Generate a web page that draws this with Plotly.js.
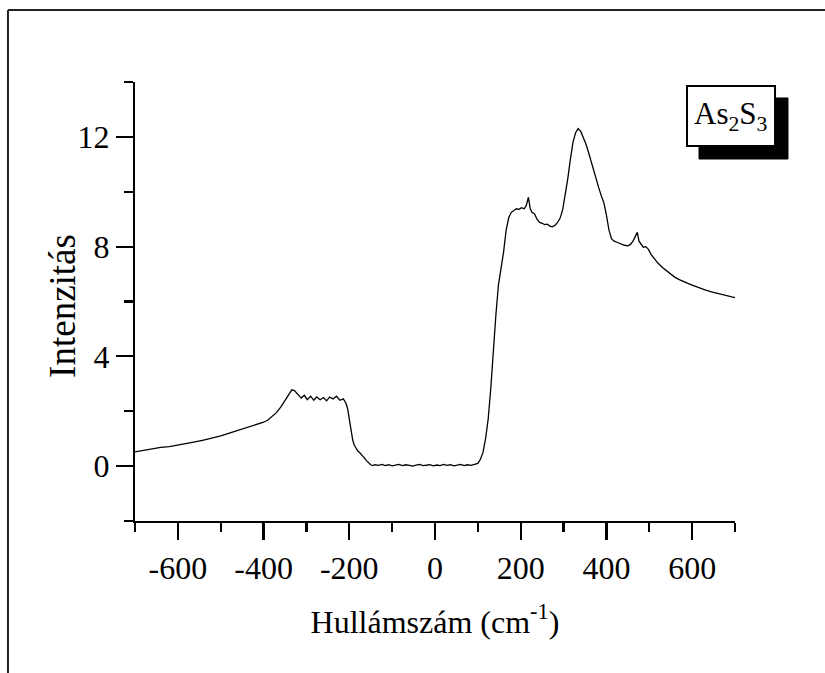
<!DOCTYPE html>
<html>
<head>
<meta charset="utf-8">
<script src="https://cdn.plot.ly/plotly-3.0.1.min.js"></script>
<style>html,body{margin:0;padding:0;background:#fff;}#chart{width:825px;height:673px;}</style>
</head>
<body>
<div id="chart"></div>
<script>
// Wavenumber (cm-1)
const wavenumber = [-700,-680,-660,-640,-620,-600,-580,-560,-540,-520,-500,-480,-460,-440,-420,-400,-390,-380,-370,-360,-350,-340,-334,-328,-320,-312,-305,-298,-290,-283,-276,-268,-260,-253,-246,-238,-230,-222,-214,-208,-204,-200,-196,-192,-188,-184,-180,-175,-170,-165,-160,-155,-150,-145,-140,-132,-124,-116,-108,-100,-92,-84,-76,-68,-60,-52,-44,-36,-28,-20,-12,-4,4,12,20,28,36,44,52,60,68,76,84,92,100,106,112,118,124,130,136,142,148,154,160,166,172,178,184,190,196,202,208,213,218,222,226,232,238,244,250,256,262,268,274,280,286,292,298,304,310,316,322,328,334,340,346,352,358,364,370,376,382,388,394,400,406,412,418,426,434,442,450,456,462,467,472,476,480,486,492,498,504,512,520,530,540,550,560,570,580,590,600,615,630,645,660,675,690,700];
// Intensity
const intensity = [0.52,0.58,0.62,0.68,0.71,0.76,0.82,0.88,0.95,1.02,1.1,1.2,1.3,1.42,1.5,1.6,1.68,1.8,1.95,2.15,2.4,2.62,2.78,2.75,2.62,2.48,2.58,2.42,2.55,2.4,2.52,2.42,2.5,2.38,2.52,2.45,2.55,2.4,2.45,2.3,2.1,1.7,1.25,0.95,0.75,0.62,0.55,0.48,0.4,0.3,0.2,0.12,0.05,0.02,0.05,0.03,0.06,0.02,0.05,0.01,0.04,0.06,0.02,0.05,0.03,0.0,0.04,0.06,0.02,0.04,0.05,0.01,0.04,0.02,0.06,0.03,0.05,0.01,0.04,0.06,0.02,0.05,0.03,0.06,0.1,0.25,0.5,1.0,1.7,2.8,4.3,5.5,6.6,7.2,7.8,8.6,9.05,9.25,9.32,9.38,9.36,9.42,9.38,9.5,9.8,9.4,9.25,9.2,9.0,8.88,8.85,8.8,8.82,8.75,8.72,8.78,8.88,9.04,9.35,9.9,10.5,11.2,11.8,12.15,12.3,12.2,12.0,11.75,11.45,11.1,10.8,10.5,10.15,9.85,9.6,9.15,8.6,8.28,8.2,8.15,8.1,8.05,8.03,8.08,8.2,8.35,8.52,8.2,8.1,7.98,8.0,7.9,7.72,7.55,7.4,7.25,7.12,7.0,6.88,6.8,6.72,6.66,6.6,6.5,6.42,6.35,6.3,6.25,6.2,6.14];

const xTickVals = [-600,-400,-200,0,200,400,600];
const xTickText = ["-600","-400","-200","0","200","400","600"];
const yTickVals = [0,4,8,12];
const yTickText = ["0","4","8","12"];
const xTitle = "Hullámszám (cm<sup>-1</sup>)";
const yTitle = "Intenzitás";
const sampleLabel = "As<sub>2</sub>S<sub>3</sub>";

const FONT = "Liberation Serif, Times New Roman, serif";

const trace = {
  x: wavenumber, y: intensity, type: 'scatter', mode: 'lines',
  line: {color: '#000', width: 1.3}, hoverinfo: 'skip', showlegend: false
};

const layout = {
  width: 825, height: 673,
  margin: {l: 135, r: 90, t: 82, b: 152},
  paper_bgcolor: '#fff', plot_bgcolor: '#fff',
  font: {family: FONT, color: '#000', size: 32},
  showlegend: false,
  xaxis: {
    range: [-700, 700], showgrid: false, zeroline: false,
    showline: true, linecolor: '#000', linewidth: 2.2,
    ticks: 'outside', ticklen: 17, tickwidth: 2.2, tickcolor: '#000',
    tickvals: xTickVals, ticktext: xTickText,
    tickfont: {family: FONT, size: 32, color: '#000'},
    minor: {ticks: 'outside', ticklen: 9, tickwidth: 2.2, tickcolor: '#000', tick0: 100, dtick: 200},
    title: {text: xTitle, font: {family: FONT, size: 32, color: '#000'}, standoff: 26}
  },
  yaxis: {
    range: [-2, 14], showgrid: false, zeroline: false,
    showline: true, linecolor: '#000', linewidth: 2.2,
    ticks: 'outside', ticklen: 17, tickwidth: 2.2, tickcolor: '#000',
    tickvals: yTickVals, ticktext: yTickText,
    tickfont: {family: FONT, size: 32, color: '#000'},
    minor: {ticks: 'outside', ticklen: 9, tickwidth: 2.2, tickcolor: '#000', tick0: 2, dtick: 4}
  },
  shapes: [
    {type: 'line', xref: 'paper', yref: 'paper', x0: -0.2117, x1: -0.2117, y0: -0.36, y1: 1.164, line: {color: '#222', width: 2}},
    {type: 'line', xref: 'paper', yref: 'paper', x0: -0.2117, x1: 1.16, y0: 1.164, y1: 1.164, line: {color: '#222', width: 2}},
    {type: 'rect', xref: 'paper', yref: 'paper', x0: 0.94, x1: 1.0883, y0: 0.8246, y1: 0.9636, fillcolor: '#000', line: {color: '#000', width: 1}},
    {type: 'rect', xref: 'paper', yref: 'paper', x0: 0.92, x1: 1.0667, y0: 0.8542, y1: 0.9909, fillcolor: '#fff', line: {color: '#000', width: 2}}
  ],
  annotations: [
    {xref: 'paper', yref: 'paper', x: -0.12, y: 0.49, xanchor: 'center', yanchor: 'middle', textangle: -90,
     text: yTitle, showarrow: false, font: {family: FONT, size: 37, color: '#000'}},
    {xref: 'paper', yref: 'paper', x: 0.9933, y: 0.9226, xanchor: 'center', yanchor: 'middle',
     text: sampleLabel, showarrow: false, font: {family: FONT, size: 31, color: '#000'}}
  ]
};

Plotly.newPlot('chart', [trace], layout, {staticPlot: true, displayModeBar: false});
</script>
</body>
</html>
